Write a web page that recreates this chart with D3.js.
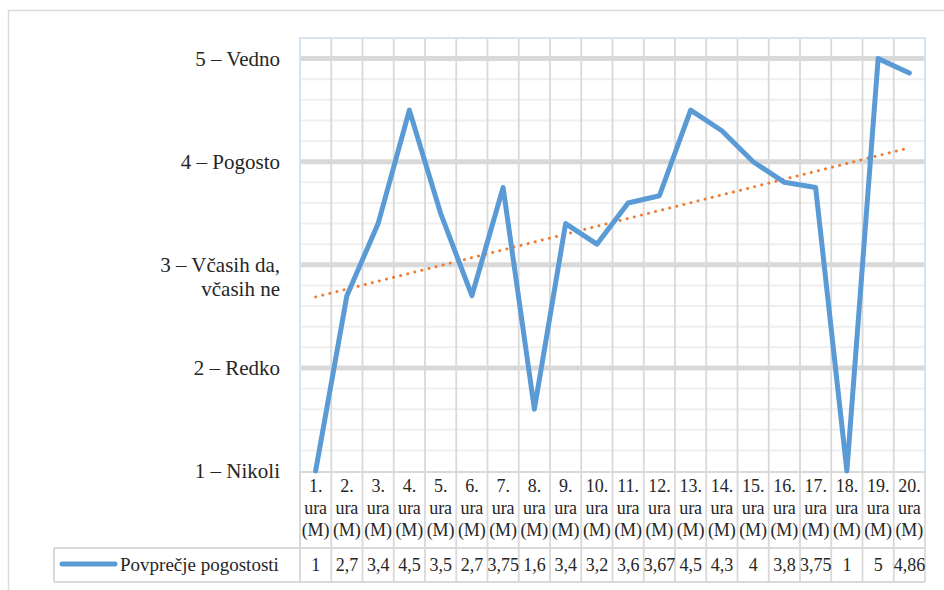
<!DOCTYPE html>
<html>
<head>
<meta charset="utf-8">
<script src="https://cdn.jsdelivr.net/npm/d3@7"></script>
<style>
  body { margin: 0; background: #fff; }
</style>
</head>
<body>
<div id="container"></div>
<script>
/* DATA */
const categories = ["1. ura (M)", "2. ura (M)", "3. ura (M)", "4. ura (M)", "5. ura (M)",
  "6. ura (M)", "7. ura (M)", "8. ura (M)", "9. ura (M)", "10. ura (M)",
  "11. ura (M)", "12. ura (M)", "13. ura (M)", "14. ura (M)", "15. ura (M)",
  "16. ura (M)", "17. ura (M)", "18. ura (M)", "19. ura (M)", "20. ura (M)"];
const values = [1, 2.7, 3.4, 4.5, 3.5, 2.7, 3.75, 1.6, 3.4, 3.2,
  3.6, 3.67, 4.5, 4.3, 4, 3.8, 3.75, 1, 5, 4.86];
const seriesName = "Povprečje pogostosti";
const yTicks = [1, 2, 3, 4, 5];
const yTickLabels = ["1 – Nikoli", "2 – Redko", "3 – Včasih da,|včasih ne", "4 – Pogosto", "5 – Vedno"];

/* CONSTANTS AND GLOBALS */
const width = 944, height = 590;
const plot = { left: 300, right: 925, top: 38, bottom: 472 };
const table = { catBottom: 548, bottom: 582, legendLeft: 54 };
const gridColor = "#d9d9d9";
const serif = "'Liberation Serif', 'DejaVu Serif', 'Times New Roman', serif";

let xScale, yScale, svg;

init();

function init() {
  xScale = d3.scaleBand()
    .domain(categories)
    .range([plot.left, plot.right]);

  yScale = d3.scaleLinear()
    .domain([1, 5.2])
    .range([plot.bottom - 1, plot.top]);

  svg = d3.select("#container")
    .append("svg")
    .attr("width", width)
    .attr("height", height)
    .attr("font-family", serif)
    .style("font-family", serif);

  draw();
}

function draw() {
  // outer chart border
  svg.append("rect")
    .attr("x", 8.5).attr("y", 10.5)
    .attr("width", 960).attr("height", 620)
    .attr("fill", "none")
    .attr("stroke", gridColor)
    .attr("stroke-width", 1.5);

  // minor horizontal gridlines
  const minor = d3.range(1.2, 5.2, 0.2).filter(v => Math.abs(v - Math.round(v)) > 0.01);
  svg.selectAll("line.minor")
    .data(minor)
    .join("line")
    .attr("class", "minor")
    .attr("x1", plot.left).attr("x2", plot.right)
    .attr("y1", d => yScale(d)).attr("y2", d => yScale(d))
    .attr("stroke", "#efefef")
    .attr("stroke-width", 2);

  // vertical gridlines (through plot and table)
  const bounds = categories.map(c => xScale(c)).concat([plot.right]);
  svg.selectAll("line.vgrid")
    .data(bounds.slice(1))
    .join("line")
    .attr("class", "vgrid")
    .attr("x1", d => d).attr("x2", d => d)
    .attr("y1", plot.top).attr("y2", table.bottom)
    .attr("stroke", gridColor)
    .attr("stroke-width", 1.8);

  // major horizontal gridlines
  svg.selectAll("line.major")
    .data(yTicks.slice(1))
    .join("line")
    .attr("class", "major")
    .attr("x1", plot.left).attr("x2", plot.right)
    .attr("y1", d => yScale(d)).attr("y2", d => yScale(d))
    .attr("stroke", gridColor)
    .attr("stroke-width", 5);

  // plot area border (light blue)
  svg.append("path")
    .attr("d", `M${plot.left},${plot.bottom} V${plot.top} H${plot.right} V${plot.bottom}`)
    .attr("fill", "none")
    .attr("stroke", "#d5e3f3")
    .attr("stroke-width", 2);

  // table lines
  svg.append("line")
    .attr("x1", plot.left).attr("x2", plot.right)
    .attr("y1", plot.bottom).attr("y2", plot.bottom)
    .attr("stroke", gridColor).attr("stroke-width", 2);
  svg.append("line")
    .attr("x1", table.legendLeft).attr("x2", plot.right)
    .attr("y1", table.catBottom).attr("y2", table.catBottom)
    .attr("stroke", gridColor).attr("stroke-width", 2);
  svg.append("line")
    .attr("x1", table.legendLeft).attr("x2", plot.right)
    .attr("y1", table.bottom).attr("y2", table.bottom)
    .attr("stroke", gridColor).attr("stroke-width", 2);
  svg.append("line")
    .attr("x1", plot.left).attr("x2", plot.left)
    .attr("y1", plot.bottom).attr("y2", table.bottom)
    .attr("stroke", gridColor).attr("stroke-width", 2);
  svg.append("line")
    .attr("x1", table.legendLeft).attr("x2", table.legendLeft)
    .attr("y1", table.catBottom).attr("y2", table.bottom)
    .attr("stroke", gridColor).attr("stroke-width", 2);

  // y labels
  const ylab = svg.selectAll("text.ylab")
    .data(yTicks)
    .join("text")
    .attr("class", "ylab")
    .attr("x", 280)
    .attr("y", d => yScale(d) + 7)
    .attr("text-anchor", "end")
    .attr("fill", "#262626")
    .style("font-size", "21px");
  ylab.each(function(d, i) {
    const parts = yTickLabels[i].split("|");
    d3.select(this).selectAll("tspan")
      .data(parts)
      .join("tspan")
      .attr("x", 280)
      .attr("dy", (p, j) => j === 0 ? 0 : 24)
      .text(p => p);
  });

  // category labels (3 lines each)
  const cat = svg.selectAll("text.cat")
    .data(categories)
    .join("text")
    .attr("class", "cat")
    .attr("text-anchor", "middle")
    .attr("y", 492)
    .attr("fill", "#262626")
    .style("font-size", "18px");
  cat.each(function(d) {
    const x = xScale(d) + xScale.bandwidth() / 2;
    d3.select(this).selectAll("tspan")
      .data(d.split(" "))
      .join("tspan")
      .attr("x", x)
      .attr("dy", (p, j) => j === 0 ? 0 : 22)
      .text(p => p);
  });

  // values row
  svg.selectAll("text.val")
    .data(values)
    .join("text")
    .attr("class", "val")
    .attr("x", (d, i) => xScale(categories[i]) + xScale.bandwidth() / 2)
    .attr("y", 571)
    .attr("text-anchor", "middle")
    .attr("fill", "#262626")
    .style("font-size", "18px")
    .text(d => String(d).replace(".", ","));

  // legend in table
  svg.append("line")
    .attr("x1", 62).attr("x2", 115)
    .attr("y1", 564).attr("y2", 564)
    .attr("stroke", "#5b9bd5")
    .attr("stroke-width", 5)
    .attr("stroke-linecap", "round");
  svg.append("text")
    .attr("x", 120).attr("y", 571)
    .attr("fill", "#262626")
    .style("font-size", "19px")
    .text(seriesName);

  // linear trend (least squares)
  const xs = values.map((v, i) => i + 1);
  const mx = d3.mean(xs), my = d3.mean(values);
  const slope = d3.sum(xs, (x, i) => (x - mx) * (values[i] - my)) / d3.sum(xs, x => (x - mx) * (x - mx));
  const trend = xs.map(x => my + slope * (x - mx));
  const cx = (d, i) => xScale(categories[i]) + xScale.bandwidth() / 2;

  svg.append("path")
    .datum(trend)
    .attr("d", d3.line().x(cx).y(d => yScale(d)))
    .attr("fill", "none")
    .attr("stroke", "#ed7d31")
    .attr("stroke-width", 3)
    .attr("stroke-linecap", "round")
    .attr("stroke-dasharray", "0.1 7.2");

  // main series line
  svg.append("path")
    .datum(values)
    .attr("d", d3.line().x(cx).y(d => yScale(d)))
    .attr("fill", "none")
    .attr("stroke", "#5b9bd5")
    .attr("stroke-width", 5)
    .attr("stroke-linejoin", "round")
    .attr("stroke-linecap", "round");
}
</script>
</body>
</html>
